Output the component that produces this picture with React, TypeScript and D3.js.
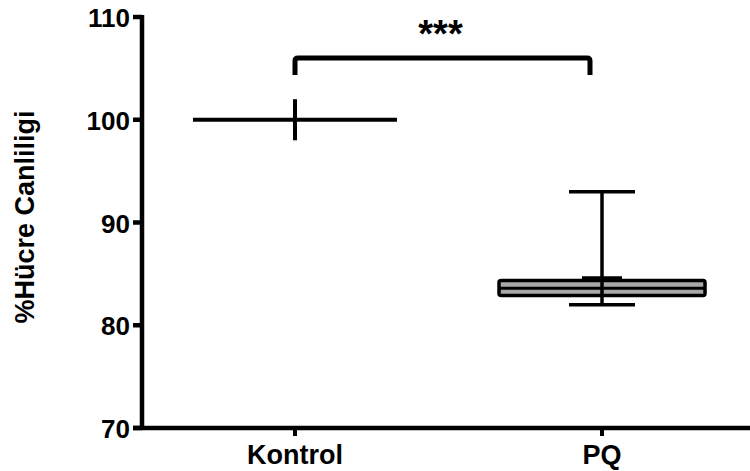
import React, { useEffect, useRef } from "react";
import * as d3 from "d3";

const categories = ["Kontrol", "PQ"];
const yTicks = [70, 80, 90, 100, 110];

// Kontrol: mean with error bar
const kontrolMean = 100;
const kontrolErr = 2;

// PQ: box plot values
const pqMin = 82;
const pqQ1 = 82.9;
const pqMedian = 83.6;
const pqQ3 = 84.35;
const pqMax = 93;
const pqCap = 84.6;

const sigLabel = "***";

function App() {
  const ref = useRef<SVGSVGElement>(null);

  useEffect(() => {
    drawChart();
  }, []);

  const drawChart = () => {
    const svg = d3.select(ref.current);
    svg.selectAll("*").remove();

    const font = "'Liberation Sans', Arial, sans-serif";
    const axisX = 142;
    const axisY = 428;

    const y = d3.scaleLinear().domain([70, 110]).range([axisY, 17]);
    const x = d3.scalePoint<string>().domain(categories).range([295, 602]);

    // Y axis
    svg.append("line")
      .attr("x1", axisX).attr("x2", axisX)
      .attr("y1", y(110) - 2).attr("y2", axisY + 2)
      .attr("stroke", "#000").attr("stroke-width", 4.5);

    const yt = svg.append("g");
    yTicks.forEach(t => {
      yt.append("line")
        .attr("x1", 133).attr("x2", axisX)
        .attr("y1", y(t)).attr("y2", y(t))
        .attr("stroke", "#000").attr("stroke-width", 4.5);
      yt.append("text")
        .attr("x", 130).attr("y", y(t) + 1)
        .attr("text-anchor", "end")
        .attr("dominant-baseline", "central")
        .style("font-family", font).style("font-weight", "bold")
        .style("font-size", "26px")
        .text(t);
    });

    // X axis
    svg.append("line")
      .attr("x1", 133).attr("x2", 750)
      .attr("y1", axisY).attr("y2", axisY)
      .attr("stroke", "#000").attr("stroke-width", 4.5);

    categories.forEach(c => {
      svg.append("line")
        .attr("x1", x(c)).attr("x2", x(c))
        .attr("y1", axisY).attr("y2", axisY + 8)
        .attr("stroke", "#000").attr("stroke-width", 4);
      svg.append("text")
        .attr("x", x(c)).attr("y", 464)
        .attr("text-anchor", "middle")
        .style("font-family", font).style("font-weight", "bold")
        .style("font-size", "27px")
        .text(c);
    });

    // Y label
    svg.append("text")
      .attr("transform", `translate(34,217) rotate(-90)`)
      .attr("text-anchor", "middle")
      .style("font-family", font).style("font-weight", "bold")
      .style("font-size", "27px")
      .text("%Hücre Canliligi");

    // Kontrol mark
    const kx = x("Kontrol")!;
    svg.append("line")
      .attr("x1", kx - 102).attr("x2", kx + 102)
      .attr("y1", y(kontrolMean)).attr("y2", y(kontrolMean))
      .attr("stroke", "#000").attr("stroke-width", 4);
    svg.append("line")
      .attr("x1", kx).attr("x2", kx)
      .attr("y1", y(kontrolMean + kontrolErr)).attr("y2", y(kontrolMean - kontrolErr))
      .attr("stroke", "#000").attr("stroke-width", 4);

    // PQ box plot
    const px = x("PQ")!;
    const g = svg.append("g");
    g.append("line")
      .attr("x1", px).attr("x2", px)
      .attr("y1", y(pqMax)).attr("y2", y(pqMin))
      .attr("stroke", "#000").attr("stroke-width", 3.5);
    [pqMax, pqMin].forEach(v => {
      g.append("line")
        .attr("x1", px - 33).attr("x2", px + 33)
        .attr("y1", y(v)).attr("y2", y(v))
        .attr("stroke", "#000").attr("stroke-width", 3.5);
    });
    g.append("line")
      .attr("x1", px - 20).attr("x2", px + 20)
      .attr("y1", y(pqCap)).attr("y2", y(pqCap))
      .attr("stroke", "#000").attr("stroke-width", 3.5);
    g.append("rect")
      .attr("x", px - 103).attr("width", 206)
      .attr("y", y(pqQ3)).attr("height", y(pqQ1) - y(pqQ3))
      .attr("rx", 2)
      .attr("fill", "#a8a8a8")
      .attr("stroke", "#000").attr("stroke-width", 3.5);
    g.append("line")
      .attr("x1", px - 103).attr("x2", px + 103)
      .attr("y1", y(pqMedian)).attr("y2", y(pqMedian))
      .attr("stroke", "#000").attr("stroke-width", 3);
    g.append("line")
      .attr("x1", px).attr("x2", px)
      .attr("y1", y(pqQ3)).attr("y2", y(pqQ1))
      .attr("stroke", "#000").attr("stroke-width", 3.5);

    // significance bracket
    const bx1 = kx, bx2 = px - 12;
    svg.append("path")
      .attr("d", `M${bx1},75 V61 Q${bx1},58 ${bx1 + 3},58 H${bx2 - 3} Q${bx2},58 ${bx2},61 V75`)
      .attr("fill", "none")
      .attr("stroke", "#000").attr("stroke-width", 5);
    svg.append("text")
      .attr("x", (bx1 + bx2) / 2 - 2).attr("y", 47)
      .attr("text-anchor", "middle")
      .style("font-family", font).style("font-weight", "bold")
      .style("font-size", "38px")
      .text(sigLabel);
  };

  return (
    <svg ref={ref} width={750} height={471}
      style={{ position: "absolute", left: 0, top: 0, background: "#fff" }} />
  );
}

export default App;
